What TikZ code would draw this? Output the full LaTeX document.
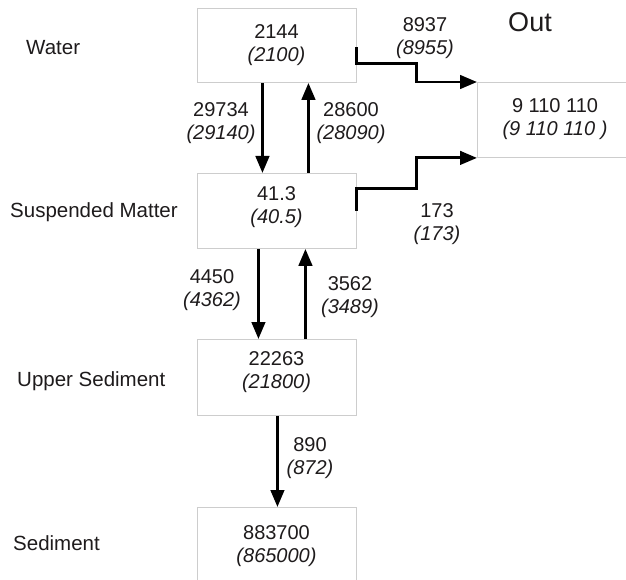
\documentclass[tikz,border=0pt]{standalone}
\usepackage{fontspec}
\setmainfont{Liberation Sans}
\usetikzlibrary{arrows.meta}
\definecolor{boxgray}{RGB}{205,205,205}
\definecolor{txt}{RGB}{30,27,28}
\begin{document}
\begin{tikzpicture}[x=1pt,y=-1pt,
  box/.style={draw=boxgray, line width=0.9pt, minimum width=159pt, inner sep=0pt, anchor=north west},
  num/.style={font=\fontsize{20}{23}\selectfont, align=center, text=txt, inner sep=0pt},
  side/.style={font=\fontsize{20.5}{24}\selectfont, text=txt, inner sep=0pt, anchor=base west},
  flow/.style={line width=2.9pt, draw=black, -{Triangle[length=17pt,width=13.5pt]}},
  outflow/.style={line width=2.9pt, draw=black, line join=miter, -{Triangle[length=17pt,width=13.5pt]}}
]
\useasboundingbox (0,0) rectangle (626,580);
\clip (0,0) rectangle (626,580);
\fill[white] (0,0) rectangle (626,580);

% boxes
\node[box, minimum height=74pt] (water) at (197,8) {};
\node[box, minimum height=75pt] (susp) at (197,173) {};
\node[box, minimum height=76pt] (upper) at (197,339) {};
\node[box, minimum height=80pt] (sed) at (197,507) {};
\node[box, minimum width=165pt, minimum height=75pt] (out) at (477,82) {};

% box contents
\node[num] (twater) at (276.5,45.5) {2144\\{\itshape (2100)}};
\node[num] (tsusp) at (276.5,207.5) {41.3\\{\itshape (40.5)}};
\node[num] (tupper) at (276.5,372.5) {22263\\{\itshape (21800)}};
\node[num] (tsed) at (276.5,546) {883700\\{\itshape (865000)}};
\node[num] (tout) at (555,119.5) {9 110 110\\{\itshape (9 110 110 )}};
\node[font=\fontsize{27}{30}\selectfont, text=txt, inner sep=0pt, anchor=base] (outlbl) at (530,32) {Out};

% side labels
\node[side] (lwater) at (26,55) {Water};
\node[side] (lsusp) at (10,217) {Suspended Matter};
\node[side] (lupper) at (17,386) {Upper Sediment};
\node[side] (lsed) at (13,550) {Sediment};

% vertical flows
\draw[flow] ([xshift=-14.5pt]water.south) -- ([xshift=-14.5pt]susp.north);
\draw[flow] ([xshift=31.5pt]susp.north) -- ([xshift=31.5pt]water.south);
\draw[flow] ([xshift=-18.5pt]susp.south) -- ([xshift=-18.5pt]upper.north);
\draw[flow] ([xshift=28.5pt]upper.north) -- ([xshift=28.5pt]susp.south);
\draw[flow] ([xshift=0.5pt]upper.south) -- ([xshift=0.5pt]sed.north);

% outflows
\draw[outflow] ([yshift=-2pt]water.east) -- ([yshift=-18pt]water.east) -- ++(60,0) |- (out.north west);
\draw[outflow] ([yshift=0pt]susp.east) -- ([yshift=22.5pt]susp.east) -- ++(60,0) |- (out.south west);

% flow labels
\node[num] (f1) at (221,123.5) {29734\\{\itshape (29140)}};
\node[num] (f2) at (351,123.5) {28600\\{\itshape (28090)}};
\node[num] (f3) at (212,290.5) {4450\\{\itshape (4362)}};
\node[num] (f4) at (350,297) {3562\\{\itshape (3489)}};
\node[num] (f5) at (310,458.5) {890\\{\itshape (872)}};
\node[num] (f6) at (425,38) {8937\\{\itshape (8955)}};
\node[num] (f7) at (437,224.5) {173\\{\itshape (173)}};
\end{tikzpicture}
\end{document}
